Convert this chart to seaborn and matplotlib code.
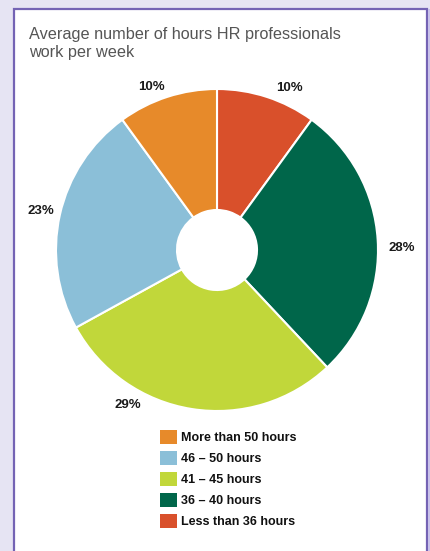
import matplotlib
matplotlib.use("Agg")
import matplotlib.pyplot as plt
import seaborn as sns
import numpy as np
from matplotlib.patches import Rectangle, Patch

sns.set_theme(style="white")
plt.rcParams['font.family'] = ['Liberation Sans', 'DejaVu Sans']

# Data (clockwise from 12 o'clock)
categories = ["Less than 36 hours", "36 – 40 hours", "41 – 45 hours", "46 – 50 hours", "More than 50 hours"]
values = [10, 28, 29, 23, 10]
colors = ["#d9502b", "#00664a", "#c1d73a", "#8bbfd8", "#e78a2a"]
legend_order = ["More than 50 hours", "46 – 50 hours", "41 – 45 hours", "36 – 40 hours", "Less than 36 hours"]
title = "Average number of hours HR professionals\nwork per week"

# label placement tweaks (layout only)
label_radius = [1.10, 1.15, 1.11, 1.12, 1.09]
label_angle_shift = [-6, -3, -21, 0, 4]

W, H = 430, 551
fig = plt.figure(figsize=(W / 100, H / 100), dpi=100)
fig.patch.set_facecolor("#e6e4f3")

# white panel with purple border
bg = fig.add_axes([0, 0, 1, 1])
bg.set_xlim(0, W)
bg.set_ylim(H, 0)
bg.axis("off")
bg.add_patch(Rectangle((14, 9), 413, 560, facecolor="white", edgecolor="#7463b4", linewidth=1.6))
bg.add_patch(Rectangle((427.8, 9), 3, 560, facecolor="#c9c1ea", edgecolor="none"))

bg.text(29, 27, title, fontsize=11.7, color="#555555", va="top", ha="left", linespacing=1.25)

# Pie axes
cx, cy, R = 217, 250, 161
span = 2.5
side = R * span
ax = fig.add_axes([(cx - side / 2) / W, (H - cy - side / 2) / H, side / W, side / H])
ax.set_xlim(-span / 2, span / 2)
ax.set_ylim(-span / 2, span / 2)
ax.axis("off")

wedges, texts, autotexts = ax.pie(
    values, colors=colors, startangle=90, counterclock=False, radius=1,
    autopct=lambda p: f"{p:.0f}%", pctdistance=1.12,
    wedgeprops=dict(width=1 - 40 / 161, edgecolor="white", linewidth=1.5),
    textprops=dict(fontsize=9.5, fontweight="bold", color="#1a1a1a"),
)
for w, t, r, s in zip(wedges, autotexts, label_radius, label_angle_shift):
    ang = np.deg2rad((w.theta1 + w.theta2) / 2 + s)
    t.set_position((r * np.cos(ang), r * np.sin(ang)))

# Legend
cmap = dict(zip(categories, colors))
handles = [Patch(facecolor=cmap[c], edgecolor="none") for c in legend_order]
fig.legend(handles, legend_order, loc="upper left", bbox_to_anchor=(155 / W, 1 - 425 / H),
           frameon=False, prop=dict(size=9, weight="bold"), handlelength=1.35, handleheight=1.35,
           handletextpad=0.35, labelspacing=0.55, borderaxespad=0)
for t in fig.legends[0].get_texts():
    t.set_color("#111111")

fig.savefig("out.png", dpi=100, facecolor=fig.get_facecolor())
